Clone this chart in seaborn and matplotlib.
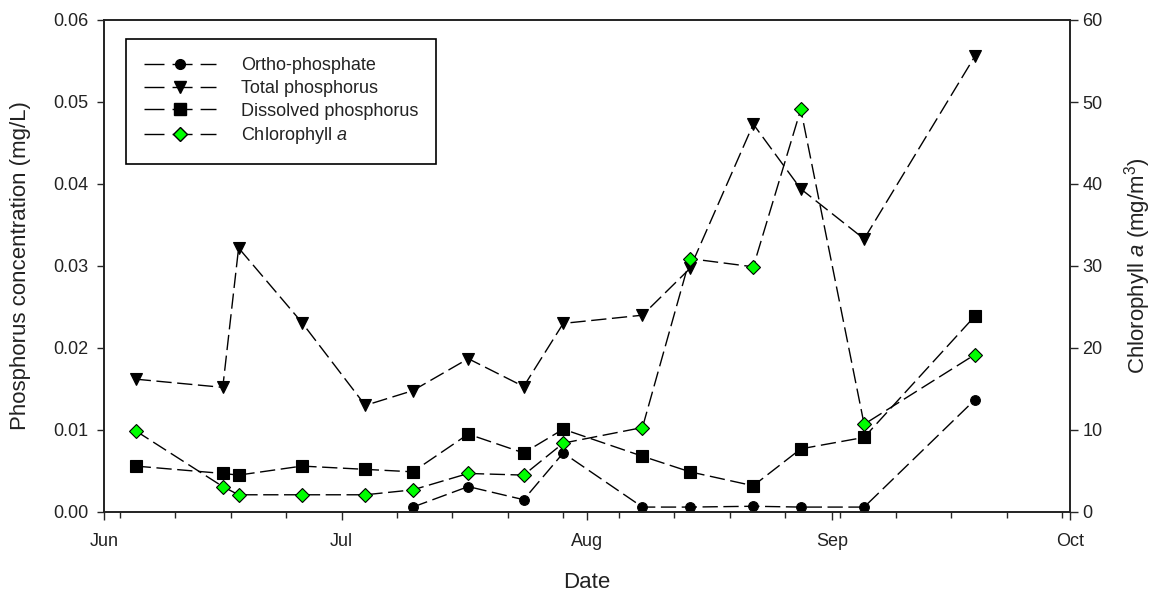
import pandas as pd
import numpy as np
import seaborn as sns
import matplotlib.pyplot as plt
import matplotlib.dates as mdates
import matplotlib.lines as mlines

# sampling dates and values
dates = ['2008-06-05', '2008-06-16', '2008-06-18', '2008-06-26', '2008-07-04',
         '2008-07-10', '2008-07-17', '2008-07-24', '2008-07-29', '2008-08-08',
         '2008-08-14', '2008-08-22', '2008-08-28', '2008-09-05', '2008-09-19']
ortho_dates = dates[5:]

total_p = [0.0162, 0.0152, 0.0322, 0.0231, 0.0130, 0.0148, 0.0187, 0.0153,
           0.0230, 0.0240, 0.0297, 0.0473, 0.0394, 0.0333, 0.0556]
dissolved_p = [0.0056, 0.0047, 0.0045, 0.0056, 0.0052, 0.0049, 0.0095, 0.0072,
               0.0101, 0.0068, 0.0049, 0.0032, 0.0077, 0.0091, 0.0239]
ortho_p = [0.0006, 0.0031, 0.0015, 0.0072, 0.0006, 0.0006, 0.0007, 0.0006,
           0.0006, 0.0137]
chl_a = [9.9, 3.1, 2.1, 2.1, 2.1, 2.7, 4.7, 4.5, 8.4, 10.3, 30.9, 29.9, 49.1,
         10.7, 19.2]

sns.set_style('ticks')
plt.rcParams['font.family'] = ['Liberation Sans', 'DejaVu Sans']
plt.rcParams['mathtext.fontset'] = 'custom'
plt.rcParams['mathtext.rm'] = 'Liberation Sans'
plt.rcParams['mathtext.it'] = 'Liberation Sans:italic'
plt.rcParams['text.color'] = '#222222'
plt.rcParams['axes.labelcolor'] = '#222222'
plt.rcParams['xtick.labelcolor'] = '#222222'
plt.rcParams['ytick.labelcolor'] = '#222222'

df = pd.DataFrame({'Date': pd.to_datetime(dates), 'TP': total_p,
                   'DP': dissolved_p, 'Chl': chl_a})
df_o = pd.DataFrame({'Date': pd.to_datetime(ortho_dates), 'OP': ortho_p})

fig = plt.figure(figsize=(11.63, 5.96), dpi=100)
ax = fig.add_axes([104 / 1163, 1 - 512 / 596, (1070 - 104) / 1163, (512 - 20) / 596])
ax2 = ax.twinx()

dash = (0, (11, 4))
common = dict(color='black', linewidth=1.0, linestyle=dash, markeredgecolor='black',
              markerfacecolor='black', markeredgewidth=0.8)

sns.lineplot(data=df_o, x='Date', y='OP', ax=ax, marker='o', markersize=7, **common)
sns.lineplot(data=df, x='Date', y='TP', ax=ax, marker='v', markersize=9, **common)
sns.lineplot(data=df, x='Date', y='DP', ax=ax, marker='s', markersize=8, **common)
chl_style = dict(common)
chl_style['markerfacecolor'] = '#00ff00'
sns.lineplot(data=df, x='Date', y='Chl', ax=ax2, marker='D', markersize=7, **chl_style)

# axes ranges and ticks
ax.set_xlim(pd.Timestamp('2008-06-01'), pd.Timestamp('2008-10-01'))
ax.set_ylim(0, 0.06)
ax2.set_ylim(0, 60)
ax.set_yticks(np.arange(0, 0.061, 0.01))
ax.yaxis.set_major_formatter(plt.FormatStrFormatter('%.2f'))
ax2.set_yticks(np.arange(0, 61, 10))

ax.xaxis.set_major_locator(mdates.MonthLocator())
ax.xaxis.set_major_formatter(mdates.DateFormatter('%b'))
ax.set_xticks(pd.date_range('2008-06-03', '2008-09-30', freq='7D'), minor=True)

ax.tick_params(axis='y', direction='out', length=5, width=1, labelsize=13, pad=6)
ax.tick_params(axis='x', which='major', direction='out', length=6, width=1, labelsize=13, pad=9)
ax.tick_params(axis='x', which='minor', direction='out', length=4, width=1)
ax2.tick_params(axis='y', direction='out', length=6, width=1, labelsize=13, pad=3)

for a in (ax, ax2):
    for s in a.spines.values():
        s.set_linewidth(1.2)
        s.set_color('#222222')

ax.set_xlabel('Date', fontsize=16, labelpad=16)
ax.set_ylabel('Phosphorus concentration (mg/L)', fontsize=16, labelpad=16)
ax2.set_ylabel(r'Chlorophyll $\mathit{a}$ (mg/m$^3$)', fontsize=16, labelpad=14)

# legend
leg_dash = (0, (14.4, 5.8))
handles = [
    mlines.Line2D([], [], color='black', lw=1.0, linestyle=leg_dash, marker='o', markersize=7, markerfacecolor='black'),
    mlines.Line2D([], [], color='black', lw=1.0, linestyle=leg_dash, marker='v', markersize=9, markerfacecolor='black'),
    mlines.Line2D([], [], color='black', lw=1.0, linestyle=leg_dash, marker='s', markersize=8, markerfacecolor='black'),
    mlines.Line2D([], [], color='black', lw=1.0, linestyle=leg_dash, marker='D', markersize=7,
                  markerfacecolor='#00ff00', markeredgecolor='black'),
]
labels = ['Ortho-phosphate', 'Total phosphorus', 'Dissolved phosphorus', r'Chlorophyll $\mathit{a}$']
leg = ax2.legend(handles, labels, loc='upper left', bbox_to_anchor=(126 / 1163, 1 - 39 / 596),
                 bbox_transform=fig.transFigure, borderaxespad=0, fontsize=13, frameon=True,
                 fancybox=False, edgecolor='black', handlelength=4, handletextpad=1.35,
                 labelspacing=0.32, borderpad=1.0, framealpha=1)
leg.get_frame().set_linewidth(1.2)

plt.savefig('out.png', dpi=100)
